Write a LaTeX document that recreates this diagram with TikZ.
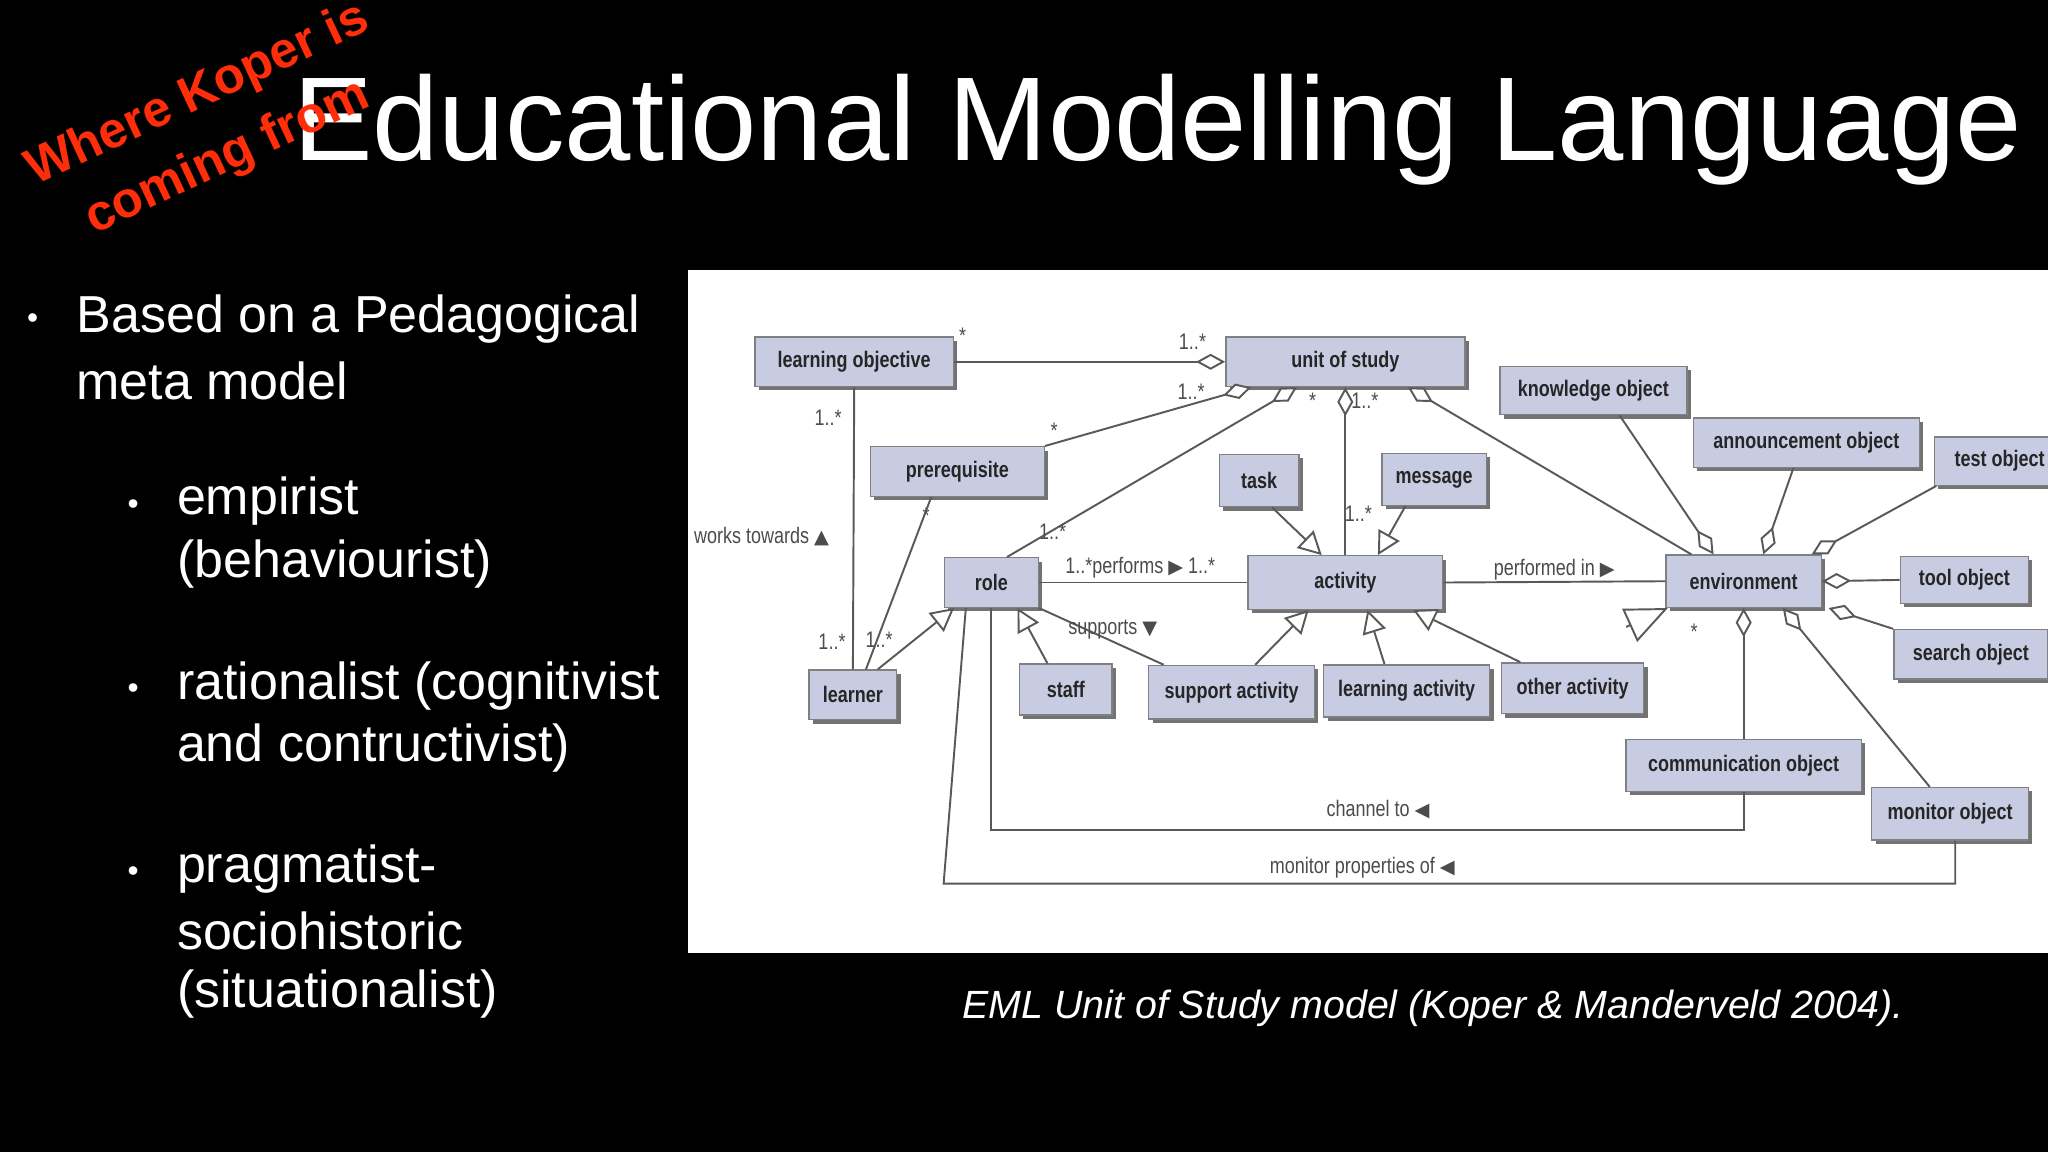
\documentclass[tikz,border=0pt]{standalone}
\usepackage{fontspec}
\setmainfont{Liberation Sans}
\newfontfamily\nf[FakeStretch=0.8]{Liberation Sans}
\newfontfamily\djf{DejaVu Sans}
\usetikzlibrary{arrows.meta,shadows,calc}
\definecolor{boxc}{RGB}{200,204,226}
\definecolor{redt}{RGB}{255,45,10}
\def\pxu{0.01306cm}
\begin{document}
\begin{tikzpicture}[x=0.01306cm,y=-0.01306cm,
 box/.style={draw=black!50,fill=boxc,inner sep=0pt,minimum height=38*\pxu,font=\nf\bfseries\fontsize{6.4}{7}\selectfont,text=black!85,
   drop shadow={shadow xshift=1.1pt,shadow yshift=-1.1pt,fill=black!55,opacity=1}},
 ln/.style={draw=black!65,line width=0.55pt},
 lab/.style={font=\nf\fontsize{6.4}{7}\selectfont,text=black!70,inner sep=0pt},
 dia/.style={-{Diamond[open,length=2.9mm,width=1.6mm,fill=white]}},
 tri/.style={-{Triangle[open,length=2.3mm,width=2.4mm,fill=white]}},
 bt/.style={text=white,anchor=west,inner sep=0pt,font=\fontsize{14.8}{17}\selectfont},
 dot/.style={text=white,inner sep=0pt,font=\fontsize{9}{10}\selectfont}]
\fill[black] (0,0) rectangle (1568,882);
\useasboundingbox (0,0) rectangle (1568,882);
% title
\node[text=white,anchor=west,inner sep=0pt,font=\fontsize{33.9}{38}\selectfont] (title) at (224,99) {Educational Modelling Language};
\node[text=redt,rotate=25,align=center,inner sep=0pt,font=\bfseries\fontsize{14.4}{19.8}\selectfont] (koper) at (163,97) {Where Koper is\\coming from};
% bullets
\node[dot] (d1) at (25,246) {•};
\node[bt] (b1) at (58,244) {Based on a Pedagogical};
\node[bt] (b1b) at (58,292) {meta model};
\node[dot] (d2) at (102,388) {•};
\node[bt] (b2) at (135,384) {empirist};
\node[bt] (b2b) at (135,432) {(behaviourist)};
\node[dot] (d3) at (102,529) {•};
\node[bt] (b3) at (135,525) {rationalist (cognitivist};
\node[bt] (b3b) at (135,573) {and contructivist)};
\node[dot] (d4) at (102,669) {•};
\node[bt] (b4) at (135,665) {pragmatist-};
\node[bt] (b4b) at (135,713) {sociohistoric};
\node[bt] (b4c) at (135,761) {(situationalist)};
\node[text=white,inner sep=0pt,font=\itshape\fontsize{11.2}{13}\selectfont] (cap) at (1097,772) {EML Unit of Study model (Koper \& Manderveld 2004).};
% diagram
\fill[white] (527,207) rectangle (1568,730);
\begin{scope}
\clip (527,207) rectangle (1568,730);
\node[box,minimum width=152*\pxu] (lo) at (654,277) {learning objective};
\node[box,minimum width=183*\pxu] (us) at (1030,277) {unit of study};
\node[box,minimum width=143*\pxu,minimum height=37*\pxu] (ko) at (1220,299) {knowledge object};
\node[box,minimum width=173*\pxu] (an) at (1383,339) {announcement object};
\node[box,minimum width=100*\pxu,minimum height=37*\pxu] (to) at (1531,353) {test object};
\node[box,minimum width=133*\pxu] (pr) at (733,361) {prerequisite};
\node[box,minimum width=61*\pxu,minimum height=40*\pxu] (tk) at (964,368) {task};
\node[box,minimum width=80*\pxu,minimum height=40*\pxu] (ms) at (1098,367) {message};
\node[box,minimum width=72*\pxu] (rl) at (759,446) {role};
\node[box,minimum width=149*\pxu,minimum height=41*\pxu] (ac) at (1030,446) {activity};
\node[box,minimum width=119*\pxu,minimum height=40*\pxu] (en) at (1335,445) {environment};
\node[box,minimum width=98*\pxu,minimum height=36*\pxu] (tl) at (1504,444) {tool object};
\node[box,minimum width=118*\pxu] (so) at (1509,501) {search object};
\node[box,minimum width=67*\pxu] (lr) at (653,532) {learner};
\node[box,minimum width=71*\pxu,minimum height=39*\pxu] (sf) at (816,528) {staff};
\node[box,minimum width=127*\pxu,minimum height=41*\pxu] (sa) at (943,530) {support activity};
\node[box,minimum width=127*\pxu,minimum height=40*\pxu] (la) at (1077,529) {learning activity};
\node[box,minimum width=109*\pxu,minimum height=39*\pxu] (oa) at (1204,527) {other activity};
\node[box,minimum width=180*\pxu,minimum height=40*\pxu] (co) at (1335,586) {communication object};
\node[box,minimum width=120*\pxu,minimum height=40*\pxu] (mo) at (1493,623) {monitor object};
% connectors
\draw[ln,dia] (lo.east) -- (us.west);
\draw[ln] (lo.south) -- (lr.north);
\draw[ln,dia] (pr.north east) -- ($(us.south west)+(20,0)$);
\draw[ln] ($(pr.south)+(-20,0)$) -- ($(lr.north)+(10,0)$);
\draw[ln,dia] ($(rl.north)+(12,0)$) -- ($(us.south west)+(55,0)$);
\draw[ln,dia] (ac.north) -- (us.south);
\draw[ln,dia] ($(en.north west)+(20,0)$) -- ($(us.south west)+(140,0)$);
\draw[ln] (rl.east) -- (ac.west);
\draw[ln,tri] ($(tk.south)+(10,0)$) -- ($(ac.north west)+(57,0)$);
\draw[ln,tri] ($(ms.south)+(-22,0)$) -- ($(ac.north west)+(100,0)$);
\draw[ln] (ac.east) -- (en.west);
\draw[ln,tri] ($(lr.north east)+(-15,0)$) -- ($(rl.south west)+(8,0)$);
\draw[ln,tri] ($(sf.north)+(-14,0)$) -- ($(rl.south)+(20,0)$);
\draw[ln] (rl.south east) -- ($(sa.north west)+(12,0)$);
\draw[ln,tri] ($(sa.north)+(18,0)$) -- ($(ac.south west)+(47,0)$);
\draw[ln,tri] ($(la.north)+(-17,0)$) -- ($(ac.south west)+(92,0)$);
\draw[ln,tri] ($(oa.north west)+(15,0)$) -- ($(ac.south west)+(127,0)$);
\coordinate (es) at (1245,480);
\draw[ln,-{Triangle[open,length=4.2mm,width=3.6mm,fill=white]}] (es) -- ($(en.south west)+(2,0)$);
\draw[ln,dia] ($(ko.south)+(20,0)$) -- ($(en.north west)+(37,0)$);
\draw[ln,dia] ($(an.south)+(-10,0)$) -- ($(en.north east)+(-45,0)$);
\draw[ln,dia] ($(to.south west)+(2,0)$) -- ($(en.north east)+(-8,0)$);
\draw[ln,dia] (tl.west) -- (en.east);
\draw[ln,dia] (so.north west) -- ($(en.south east)+(5,0)$);
\draw[ln,dia] (co.north) -- (en.south);
\draw[ln,dia] ($(mo.north west)+(45,0)$) -- ($(en.south)+(30,0)$);
\draw[ln] (rl.south) |- ($(co.south)+(0,29)$) -- (co.south);
\draw[ln] ($(rl.south west)+(17,0)$) -- ($(rl.south west)+(0,211)$) -| ($(mo.south)+(4,0)$);
% labels
\node[lab] (m1) at (737,257) {*};
\node[lab] (m2) at (913,262) {1..*};
\node[lab] (m3) at (912,300) {1..*};
\node[lab] (m4) at (807,330) {*};
\node[lab] (m5) at (634,320) {1..*};
\node[lab] (wt) at (583,411) {works towards {\djf\fontsize{5.5}{6}\selectfont▲}};
\node[lab] (m6) at (637,491) {1..*};
\node[lab] (m7) at (673,490) {1..*};
\node[lab] (m8) at (709,395) {*};
\node[lab] (m9) at (806,407) {1..*};
\node[lab] (m10) at (1005,307) {*};
\node[lab] (m11) at (1045,307) {1..*};
\node[lab] (m12) at (1040,393) {1..*};
\node[lab] (pf) at (873,435) {1..*performs {\djf\fontsize{5.5}{6}\selectfont▶} 1..*};
\node[lab] (pi) at (1190,436) {performed in {\djf\fontsize{5.5}{6}\selectfont▶}};
\node[lab] (sp) at (852,482) {supports {\djf\fontsize{5.5}{6}\selectfont▼}};
\node[lab] (m13) at (1297,484) {*};
\node[lab] (ch) at (1055,620) {channel to {\djf\fontsize{5.5}{6}\selectfont◀}};
\node[lab] (mp) at (1043,664) {monitor properties of {\djf\fontsize{5.5}{6}\selectfont◀}};
\end{scope}
\end{tikzpicture}
\end{document}
